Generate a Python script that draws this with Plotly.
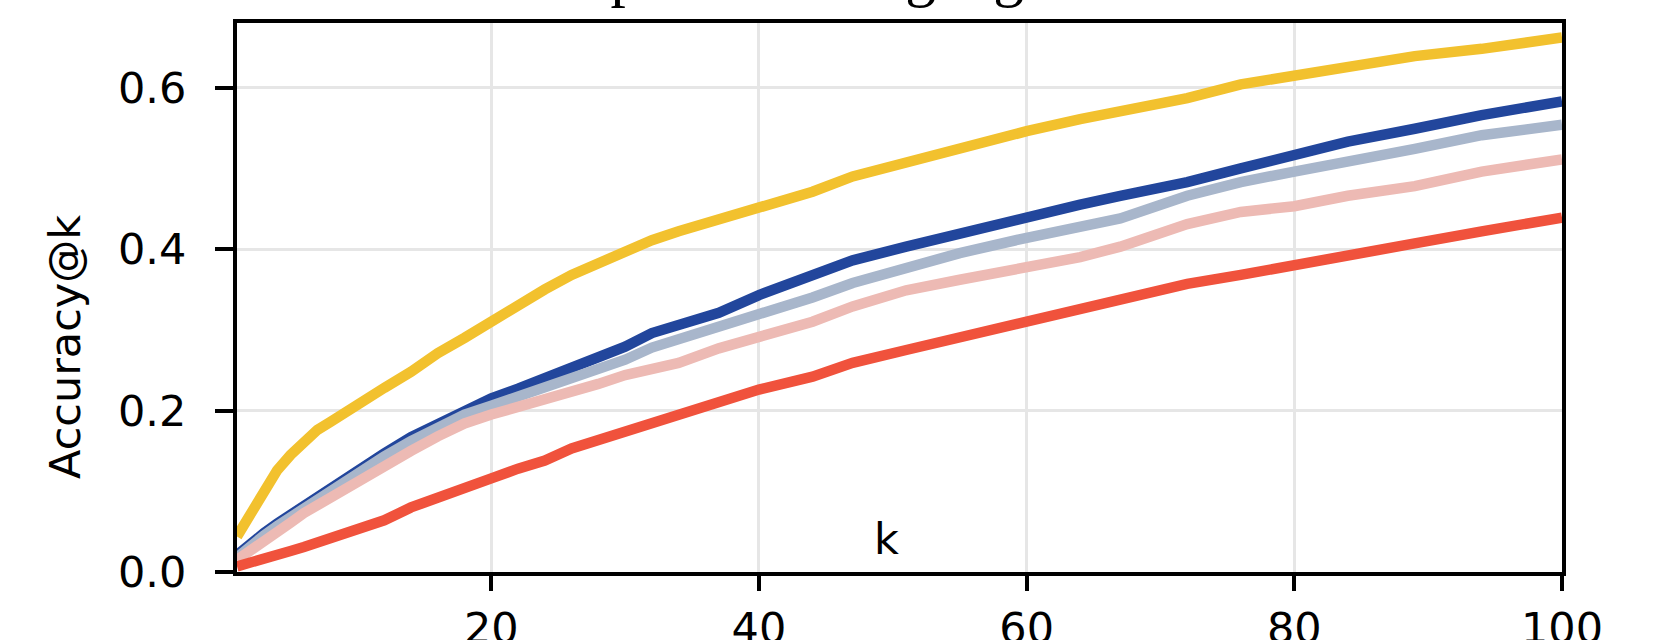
import plotly.graph_objects as go

# k values at which the curves were read
k_vals = [1, 2, 3, 4, 5, 6, 7, 8, 9, 10, 12, 14, 16, 18, 20, 22, 24, 26, 28, 30,
          32, 34, 37, 40, 44, 47, 51, 55, 60, 64, 67, 72, 76, 80, 84, 89, 94, 100]

yellow_vals = [0.044, 0.073, 0.102, 0.126, 0.145, 0.161, 0.176, 0.186, 0.197, 0.207,
               0.228, 0.248, 0.271, 0.290, 0.310, 0.333, 0.350, 0.368, 0.383, 0.397,
               0.411, 0.422, 0.437, 0.453, 0.471, 0.490, 0.508, 0.523, 0.546, 0.561,
               0.571, 0.587, 0.604, 0.614, 0.625, 0.639, 0.648, 0.662]

darkblue_vals = [0.021, 0.036, 0.048, 0.060, 0.071, 0.083, 0.094, 0.105, 0.116, 0.126,
                 0.147, 0.167, 0.184, 0.201, 0.215, 0.227, 0.240, 0.251, 0.264, 0.279,
                 0.296, 0.306, 0.321, 0.343, 0.368, 0.386, 0.403, 0.420, 0.440, 0.455,
                 0.466, 0.483, 0.500, 0.517, 0.533, 0.549, 0.566, 0.583]

lightblue_vals = [0.018, 0.033, 0.045, 0.057, 0.068, 0.079, 0.090, 0.101, 0.112, 0.122,
                  0.143, 0.162, 0.179, 0.195, 0.206, 0.217, 0.229, 0.240, 0.251, 0.263,
                  0.278, 0.288, 0.303, 0.321, 0.340, 0.358, 0.378, 0.395, 0.414, 0.429,
                  0.438, 0.466, 0.483, 0.496, 0.507, 0.524, 0.541, 0.554]

pink_vals = [0.015, 0.026, 0.036, 0.048, 0.061, 0.073, 0.083, 0.093, 0.102, 0.111,
             0.130, 0.150, 0.168, 0.184, 0.195, 0.204, 0.214, 0.222, 0.233, 0.244,
             0.252, 0.259, 0.277, 0.290, 0.310, 0.329, 0.349, 0.362, 0.376, 0.390,
             0.403, 0.431, 0.446, 0.453, 0.466, 0.478, 0.496, 0.511]

red_vals = [0.007, 0.011, 0.015, 0.021, 0.026, 0.031, 0.037, 0.042, 0.048, 0.053,
            0.064, 0.080, 0.093, 0.106, 0.116, 0.128, 0.138, 0.153, 0.163, 0.174,
            0.186, 0.196, 0.210, 0.226, 0.242, 0.259, 0.275, 0.290, 0.310, 0.324,
            0.335, 0.357, 0.368, 0.381, 0.394, 0.407, 0.422, 0.439]

x_ticks = [20, 40, 60, 80, 100]
y_ticks = [0.0, 0.2, 0.4, 0.6]
y_tick_text = ["0.0", "0.2", "0.4", "0.6"]

title_text = "Top-k over language models"
x_label = "k"
y_label = "Accuracy@k"

series = [
    (yellow_vals, "#F2C12E"),
    (darkblue_vals, "#22469C"),
    (lightblue_vals, "#A8B6CB"),
    (pink_vals, "#EDBAB4"),
    (red_vals, "#F0523C"),
]

fig = go.Figure()
for vals, col in series:
    fig.add_trace(go.Scatter(x=k_vals, y=vals, mode="lines",
                             line=dict(color=col, width=10.5),
                             showlegend=False, hoverinfo="skip"))

FONT = "DejaVu Sans"
axis_common = dict(showline=True, linecolor="black", linewidth=4, mirror=True,
                   showgrid=True, gridcolor="#E6E6E6", gridwidth=3,
                   ticks="outside", tickwidth=3.5, tickcolor="black",
                   zeroline=False, automargin=False,
                   tickfont=dict(family=FONT, size=43, color="black"))

fig.update_xaxes(range=[1, 100], tickvals=x_ticks, ticktext=[str(t) for t in x_ticks],
                 ticklen=15, ticklabelstandoff=0, **axis_common)
fig.update_yaxes(range=[0, 0.68], tickvals=y_ticks, ticktext=y_tick_text,
                 ticklen=18, ticklabelstandoff=20, **axis_common)

fig.add_annotation(text=x_label, xref="paper", yref="paper",
                   x=(886 - 237) / 1325, y=(572 - 566) / 549, xanchor="center",
                   yanchor="bottom", showarrow=False,
                   font=dict(family=FONT, size=43, color="black"))
fig.add_annotation(text=y_label, xref="paper", yref="paper",
                   x=(65 - 237) / 1325, y=(572 - 347) / 549, xanchor="center",
                   yanchor="middle", textangle=-90, showarrow=False,
                   font=dict(family=FONT, size=43, color="black"))
fig.add_annotation(text=title_text, xref="paper", yref="paper",
                   x=(545 - 237) / 1325, y=(572 - 10) / 549, xanchor="left",
                   yanchor="bottom", showarrow=False,
                   font=dict(family="Liberation Serif", size=61, color="black"))

fig.update_layout(width=1666, height=640, autosize=False,
                  margin=dict(l=237, r=104, t=23, b=68),
                  paper_bgcolor="white", plot_bgcolor="white")

fig.write_html("out.html", include_plotlyjs=True)
